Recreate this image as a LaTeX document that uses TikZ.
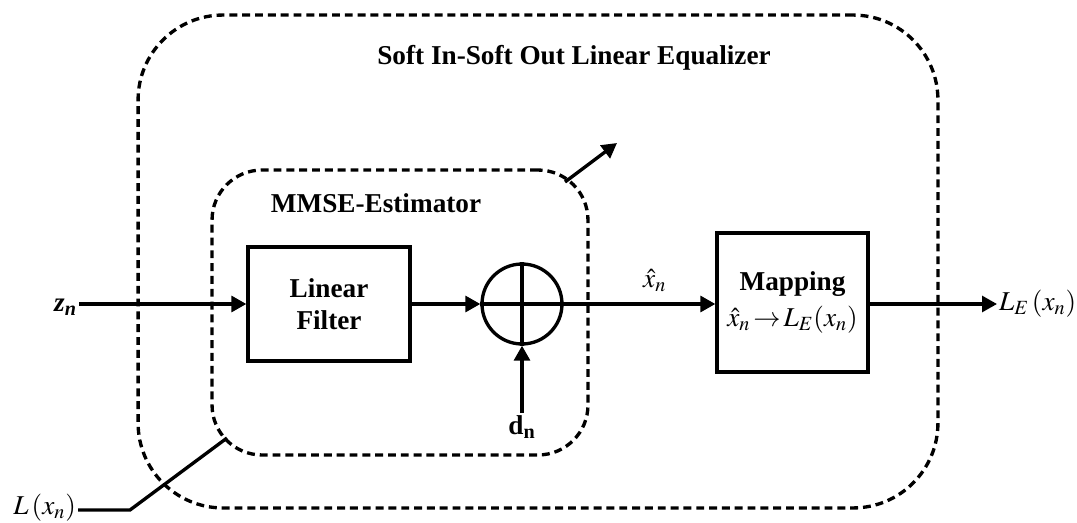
\documentclass[tikz,border=0pt]{standalone}
\usepackage{mathptmx}
\usepackage[no-math]{fontspec}
\setmainfont{Liberation Serif}
\usetikzlibrary{arrows.meta,positioning}

\begin{document}
\begin{tikzpicture}[x=0.02cm, y=-0.02cm,
    blk/.style={rectangle, draw, line width=1.9pt, minimum width=3.24cm, minimum height=2.28cm,
      align=center, font=\fontsize{15.5}{18}\selectfont\bfseries},
    grp/.style={rectangle, draw, line width=1.9pt, dash pattern=on 4.5pt off 2.8pt},
    sig/.style={line width=1.9pt, -{Triangle[length=8.5pt, width=9pt]}},
    lbl/.style={font=\fontsize{15.5}{18}\selectfont, inner sep=1pt}
  ]
    \useasboundingbox (0,0) rectangle (1077,523);

    % Dashed frames
    \node[grp, rounded corners=1.7cm, minimum width=16cm, minimum height=9.86cm] (siso) at (538,261.5) {};
    \node[grp, rounded corners=1.0cm, minimum width=7.52cm, minimum height=5.7cm] (mmse) at (400,312.5) {};
    \node[lbl, font=\fontsize{15.5}{18}\selectfont\bfseries] (sisotitle) at (574,58) {Soft In-Soft Out Linear Equalizer};
    \node[lbl, font=\fontsize{15.5}{18}\selectfont\bfseries] (mmsetitle) at (376,203) {MMSE-Estimator};

    % Blocks
    \node[blk] (filter) at (329,304) {Linear\\Filter};
    \node[circle, draw, line width=1.9pt, minimum size=1.6cm] (sum) at (522,304) {};
    \draw[line width=1.9pt] (sum.north) -- (sum.south) (sum.west) -- (sum.east);
    \node[blk, minimum width=3.02cm, minimum height=2.78cm] (map) at (792.5,302.5)
      {Mapping\\[2pt] \mdseries $\hat{x}_n \!\rightarrow\! L_E(x_n)$};

    % Signals
    \node[lbl, anchor=east] (zin) at (79,307) {\bfseries\itshape z\textsubscript{n}};
    \draw[sig] (zin.east |- filter.west) -- (filter.west);
    \draw[sig] (filter.east) -- (sum.west);
    \draw[sig] (sum.east) -- node[lbl, above=5pt, pos=0.6] (xhat) {$\hat{x}_n$} (sum.east -| map.west);
    \coordinate (out) at (997,304);
    \draw[sig] (sum.east -| map.east) -- (out);
    \node[lbl, anchor=west] (lout) at (out) {$L_E\left(x_n\right)$};

    \coordinate (dpt) at (522,413);
    \draw[sig] (dpt) -- (sum.south);
    \node[lbl, anchor=north] (dn) at (dpt) {\bfseries d\textsubscript{n}};

    % Parameter lines
    \node[lbl, anchor=east] (lin) at (78,508) {$L\left(x_n\right)$};
    \coordinate (lbend) at (130,510);
    \coordinate (lend) at (227,438);
    \draw[line width=1.9pt] (lin.east |- lbend) -- (lbend) -- (lend);
    \coordinate (vstart) at (565,182);
    \coordinate (vend) at (617,143);
    \draw[sig] (vstart) -- (vend);
\end{tikzpicture}
\end{document}
